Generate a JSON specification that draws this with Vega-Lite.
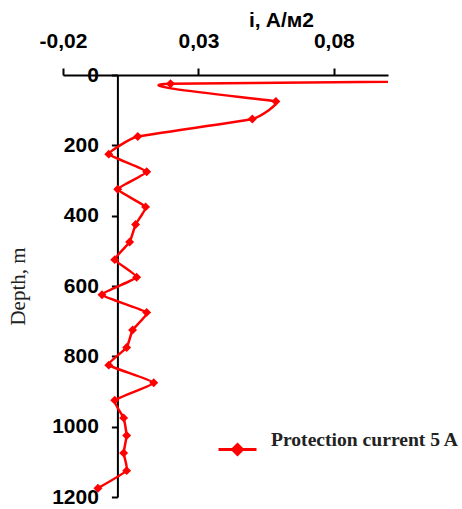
{
  "$schema": "https://vega.github.io/schema/vega-lite/v6.json",
  "width": 325,
  "height": 422,
  "autosize": "none",
  "padding": {"left": 63, "top": 75, "right": 74, "bottom": 12},
  "background": "white",
  "config": {
    "view": {"stroke": null},
    "axis": {"grid": false, "domainColor": "black", "tickColor": "black", "labelColor": "black", "titleColor": "black"}
  },
  "data": {
    "values": [
      {"depth": 0, "i": 0.42, "series": "Protection current 5 A"},
      {"depth": 25, "i": 0.0197, "series": "Protection current 5 A"},
      {"depth": 75, "i": 0.0586, "series": "Protection current 5 A"},
      {"depth": 125, "i": 0.0499, "series": "Protection current 5 A"},
      {"depth": 175, "i": 0.0076, "series": "Protection current 5 A"},
      {"depth": 225, "i": -0.0031, "series": "Protection current 5 A"},
      {"depth": 275, "i": 0.0109, "series": "Protection current 5 A"},
      {"depth": 325, "i": 0.0002, "series": "Protection current 5 A"},
      {"depth": 375, "i": 0.0105, "series": "Protection current 5 A"},
      {"depth": 425, "i": 0.0068, "series": "Protection current 5 A"},
      {"depth": 475, "i": 0.0046, "series": "Protection current 5 A"},
      {"depth": 525, "i": -0.0009, "series": "Protection current 5 A"},
      {"depth": 575, "i": 0.0072, "series": "Protection current 5 A"},
      {"depth": 625, "i": -0.0056, "series": "Protection current 5 A"},
      {"depth": 675, "i": 0.0109, "series": "Protection current 5 A"},
      {"depth": 725, "i": 0.0057, "series": "Protection current 5 A"},
      {"depth": 775, "i": 0.0035, "series": "Protection current 5 A"},
      {"depth": 825, "i": -0.0031, "series": "Protection current 5 A"},
      {"depth": 875, "i": 0.0135, "series": "Protection current 5 A"},
      {"depth": 925, "i": -0.0009, "series": "Protection current 5 A"},
      {"depth": 975, "i": 0.0024, "series": "Protection current 5 A"},
      {"depth": 1025, "i": 0.0035, "series": "Protection current 5 A"},
      {"depth": 1075, "i": 0.0024, "series": "Protection current 5 A"},
      {"depth": 1125, "i": 0.0035, "series": "Protection current 5 A"},
      {"depth": 1175, "i": -0.0071, "series": "Protection current 5 A"}
    ]
  },
  "encoding": {
    "x": {
      "field": "i", "type": "quantitative",
      "scale": {"domain": [-0.02, 0.1], "nice": false, "zero": false},
      "axis": {
        "orient": "top",
        "values": [-0.02, 0.03, 0.08],
        "labelExpr": "replace(replace(format(datum.value, '.2f'), '.', ','), '\u2212', '-')",
        "labelFlush": false,
        "labelOverlap": false,
        "domainWidth": 2,
        "tickWidth": 2,
        "tickSize": 7,
        "labelPadding": 17,
        "labelFont": "Liberation Sans",
        "labelFontSize": 21,
        "labelFontWeight": "bold",
        "title": "i, A/м2",
        "titleFont": "Liberation Sans",
        "titleFontSize": 21,
        "titleFontWeight": "bold",
        "titleX": 218,
        "titleY": -49,
        "titleAlign": "center",
        "titleBaseline": "alphabetic"
      }
    },
    "y": {
      "field": "depth", "type": "quantitative",
      "scale": {"domain": [0, 1200], "reverse": true, "nice": false, "zero": false},
      "axis": {
        "values": [0, 200, 400, 600, 800, 1000, 1200],
        "format": "d",
        "offset": -54.4,
        "labelOverlap": false,
        "labelFlush": false,
        "domainWidth": 2,
        "tickWidth": 2,
        "tickSize": 6,
        "labelPadding": 13,
        "labelFont": "Liberation Sans",
        "labelFontSize": 21,
        "labelFontWeight": "bold",
        "title": "Depth, m",
        "titleFont": "Liberation Serif",
        "titleFontSize": 21,
        "titleFontWeight": "normal",
        "titleColor": "#222222",
        "titleX": -99,
        "titleBaseline": "middle"
      }
    },
    "color": {
      "field": "series", "type": "nominal",
      "scale": {"range": ["#ff0000"]},
      "legend": {
        "orient": "none",
        "legendX": 154,
        "legendY": 354,
        "title": null,
        "padding": 0,
        "symbolType": "M-1,0L1,0M-0.26,0L0,-0.26L0.26,0L0,0.26Z",
        "symbolSize": 1444,
        "symbolStrokeWidth": 3,
        "symbolFillColor": "#ff0000",
        "symbolStrokeColor": "#ff0000",
        "labelFont": "Liberation Serif",
        "labelFontSize": 19.6,
        "labelFontWeight": "bold",
        "labelColor": "#222222",
        "labelOffset": 13,
        "labelBaseline": "bottom",
        "labelLimit": 300
      }
    }
  },
  "layer": [
    {
      "mark": {"type": "line", "interpolate": "cardinal", "tension": 0.66, "strokeWidth": 2.5, "clip": true},
      "encoding": {"order": {"field": "depth", "type": "quantitative"}}
    },
    {
      "mark": {"type": "point", "shape": "diamond", "filled": true, "size": 80, "opacity": 1, "clip": true}
    }
  ]
}
